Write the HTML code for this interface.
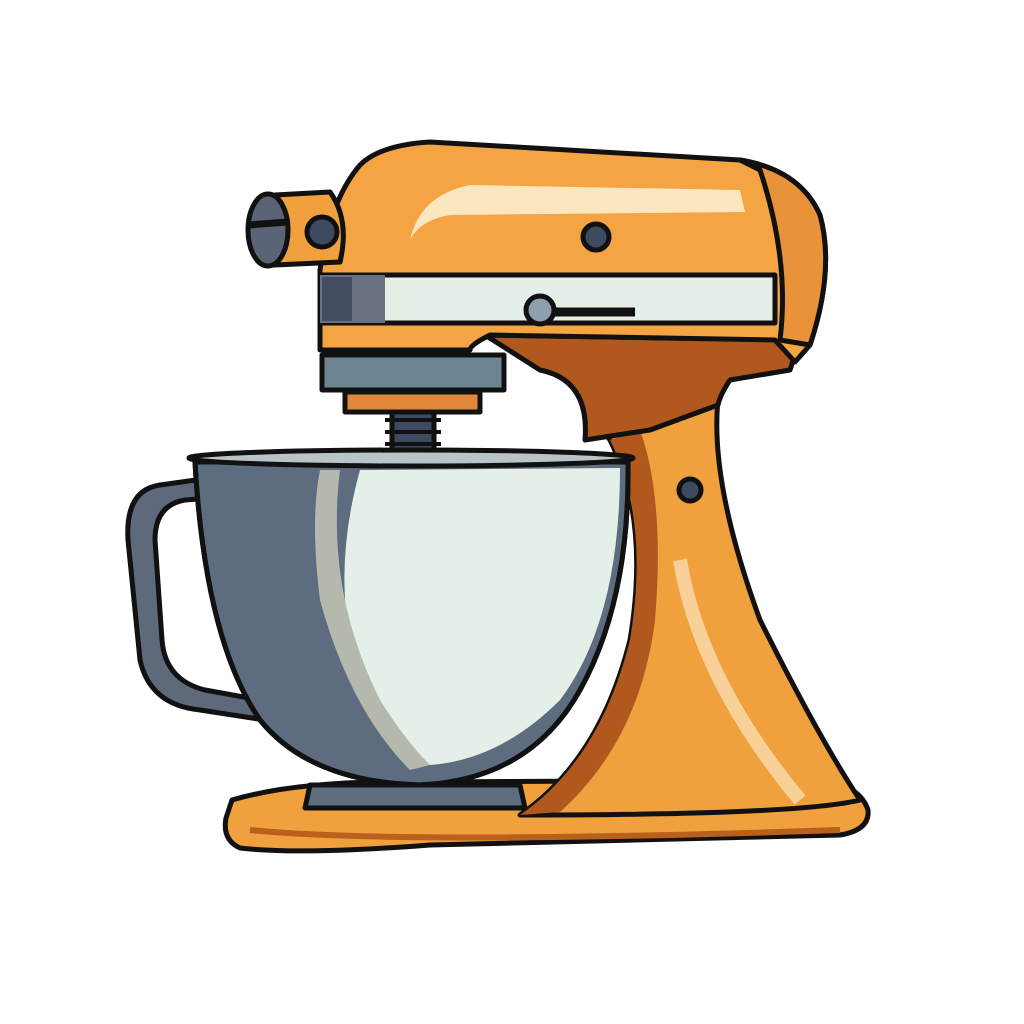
<!DOCTYPE html>
<html><head><style>html,body{margin:0;padding:0;background:#fff}svg{display:block}</style></head>
<body>
<svg width="1024" height="1024" viewBox="0 0 1024 1024" xmlns="http://www.w3.org/2000/svg" stroke="#111" stroke-width="5" stroke-linejoin="round">
<!-- base -->
<path d="M232 800 Q300 780 420 782 L820 780 Q860 785 868 810 Q870 830 840 835 L430 845 Q300 855 240 848 Q222 840 226 818 Z" fill="#f0a03c"/>
<path d="M250 830 Q400 845 840 830" fill="none" stroke="#b8601c" stroke-width="6"/>
<!-- column -->
<path d="M580 400 L720 385 Q705 470 760 620 Q820 740 860 800 Q800 815 520 815 Q600 760 630 640 Q650 520 610 440 Z" fill="#f0a03c"/>
<path d="M610 440 Q650 520 630 640 Q600 760 520 815 L560 812 Q640 740 655 620 Q665 500 640 430 Z" fill="#b0581e" stroke="none"/>
<path d="M680 560 Q700 680 800 800" fill="none" stroke="#fbe6bf" stroke-width="14" opacity="0.7"/>
<circle cx="690" cy="490" r="11" fill="#3d4a60"/>
<!-- neck joint -->
<path d="M485 335 L800 340 L790 370 L730 380 Q720 395 718 405 L650 430 L585 440 Q590 380 540 370 Z" fill="#b0581e"/>
<!-- head -->
<path d="M320 270 Q330 200 360 165 Q380 145 430 142 L740 160 Q800 170 820 215 Q835 270 810 345 L795 362 L775 340 L490 335 Q470 345 470 350 L320 350 Z" fill="#f4a442"/>
<path d="M740 160 Q800 170 820 215 Q835 270 810 345 L780 340 Q790 260 760 170 Z" fill="#e8923a"/>
<path d="M410 240 Q420 195 470 185 L740 190 L745 212 L450 215 Q420 220 410 240 Z" fill="#fbe6bf" stroke="none"/>
<circle cx="596" cy="237" r="13" fill="#3d4a60"/>
<!-- band -->
<rect x="320" y="275" width="455" height="48" fill="#e4efe8"/>
<rect x="320" y="275" width="65" height="48" fill="#6a7282" stroke="none"/>
<rect x="322" y="277" width="30" height="44" fill="#444d60" stroke="none"/>
<path d="M530 312 L635 312" stroke="#111" stroke-width="9"/>
<circle cx="540" cy="310" r="14" fill="#8ea0ac"/>
<!-- hub -->
<path d="M275 195 L330 192 Q350 220 340 262 L275 265 Z" fill="#f0a03c"/>
<ellipse cx="268" cy="230" rx="20" ry="36" fill="#5a6475"/>
<path d="M248 225 L288 222" stroke-width="7"/>
<circle cx="322" cy="232" r="15" fill="#3d4a60"/>
<!-- under head -->
<rect x="322" y="355" width="182" height="35" fill="#6d8592"/>
<rect x="345" y="392" width="135" height="20" fill="#e0873a"/>
<rect x="392" y="412" width="42" height="42" fill="#3d4a60"/>
<path d="M385 420h56M385 432h56M385 444h56" stroke-width="4"/>
<!-- handle -->
<path d="M210 478 L160 485 Q125 490 128 540 L140 660 Q150 705 200 710 L265 720 L260 700 L205 690 Q165 680 162 640 L155 540 Q155 505 185 500 L212 498 Z" fill="#5d6a7a"/>
<!-- bowl -->
<path d="M195 462 L628 462 Q630 600 580 690 Q530 780 420 785 Q310 782 260 720 Q205 640 195 462 Z" fill="#5e6c80"/>
<path d="M360 470 L620 468 Q620 620 560 700 Q500 760 430 765 Q380 720 350 640 Q335 560 360 470 Z" fill="#e4efe8" stroke="none"/>
<path d="M340 470 Q325 590 380 700 Q405 740 430 765 L410 770 Q350 710 320 600 Q310 520 320 470 Z" fill="#b5b8ad" stroke="none"/>
<path d="M195 462 L628 462 Q630 600 580 690 Q530 780 420 785 Q310 782 260 720 Q205 640 195 462 Z" fill="none"/>
<ellipse cx="411" cy="458" rx="222" ry="8" fill="#b9c4c8"/>
<path d="M310 785 L520 785 L525 808 L305 808 Z" fill="#5e6c80"/>
</svg>
</body></html>
